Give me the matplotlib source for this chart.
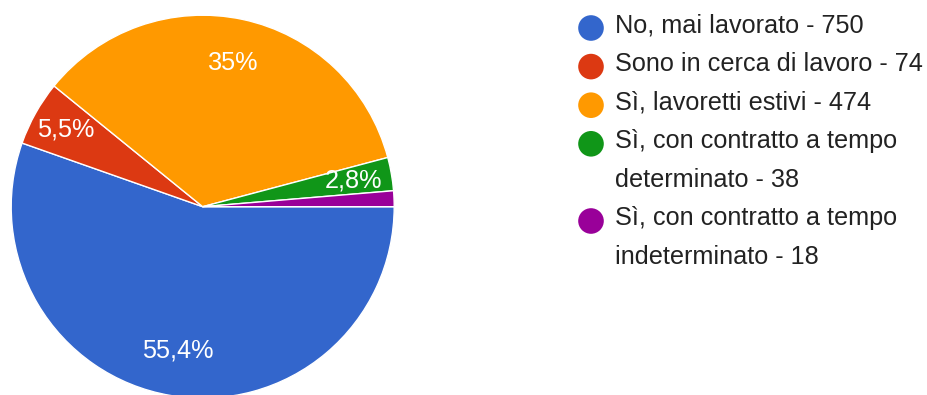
import textwrap
import matplotlib
matplotlib.use("Agg")
import matplotlib.pyplot as plt
import numpy as np

labels = ["No, mai lavorato", "Sono in cerca di lavoro", "Sì, lavoretti estivi",
          "Sì, con contratto a tempo determinato", "Sì, con contratto a tempo indeterminato"]
counts = [750, 74, 474, 38, 18]
colors = ["#3366cc", "#dc3912", "#ff9900", "#109618", "#990099"]

plt.rcParams['font.family'] = ['Liberation Sans', 'DejaVu Sans']

W, H = 927, 395
fig = plt.figure(figsize=(W / 100, H / 100), dpi=100)

# pie axes: centre (203, 207) px from top, radius ~191.5 px
r_px = 191.5
lim = 1.1
side = 2 * lim * r_px
cx, cy = 202.7, H - 206.7
ax = fig.add_axes([(cx - side / 2) / W, (cy - side / 2) / H, side / W, side / H])


def fmt(p):
    if p < 2:
        return ""
    s = f"{p:.1f}".rstrip("0").rstrip(".")
    return s.replace(".", ",") + "%"


wedges, _, autotexts = ax.pie(counts, colors=colors, startangle=0, counterclock=False,
                              autopct=fmt, radius=1,
                              wedgeprops=dict(edgecolor="white", linewidth=1),
                              textprops=dict(color="white", fontsize=18.2))
ax.set_xlim(-lim, lim)
ax.set_ylim(-lim, lim)

# label distance from centre for each slice
dists = [0.76, 0.82, 0.765, 0.80, 0.8]
for t, w, d in zip(autotexts, wedges, dists):
    a = np.deg2rad((w.theta1 + w.theta2) / 2)
    t.set_position((d * np.cos(a), d * np.sin(a)))
    t.set_ha("center")
    t.set_va("center")

# legend drawn by hand in pixel coordinates
lax = fig.add_axes([0, 0, 1, 1])
lax.set_xlim(0, W)
lax.set_ylim(H, 0)
lax.axis("off")

base = 32.5
step = 38.6
line = 0
for lab, n, c in zip(labels, counts, colors):
    lines = textwrap.wrap(f"{lab} - {n}", 28)
    lax.scatter([591], [base + line * step - 4.5], s=340, color=c, edgecolors="none")
    for l in lines:
        lax.text(615, base + line * step, l, fontsize=18.2, color="#222222",
                 ha="left", va="baseline")
        line += 1

fig.savefig("out.png", dpi=100)
